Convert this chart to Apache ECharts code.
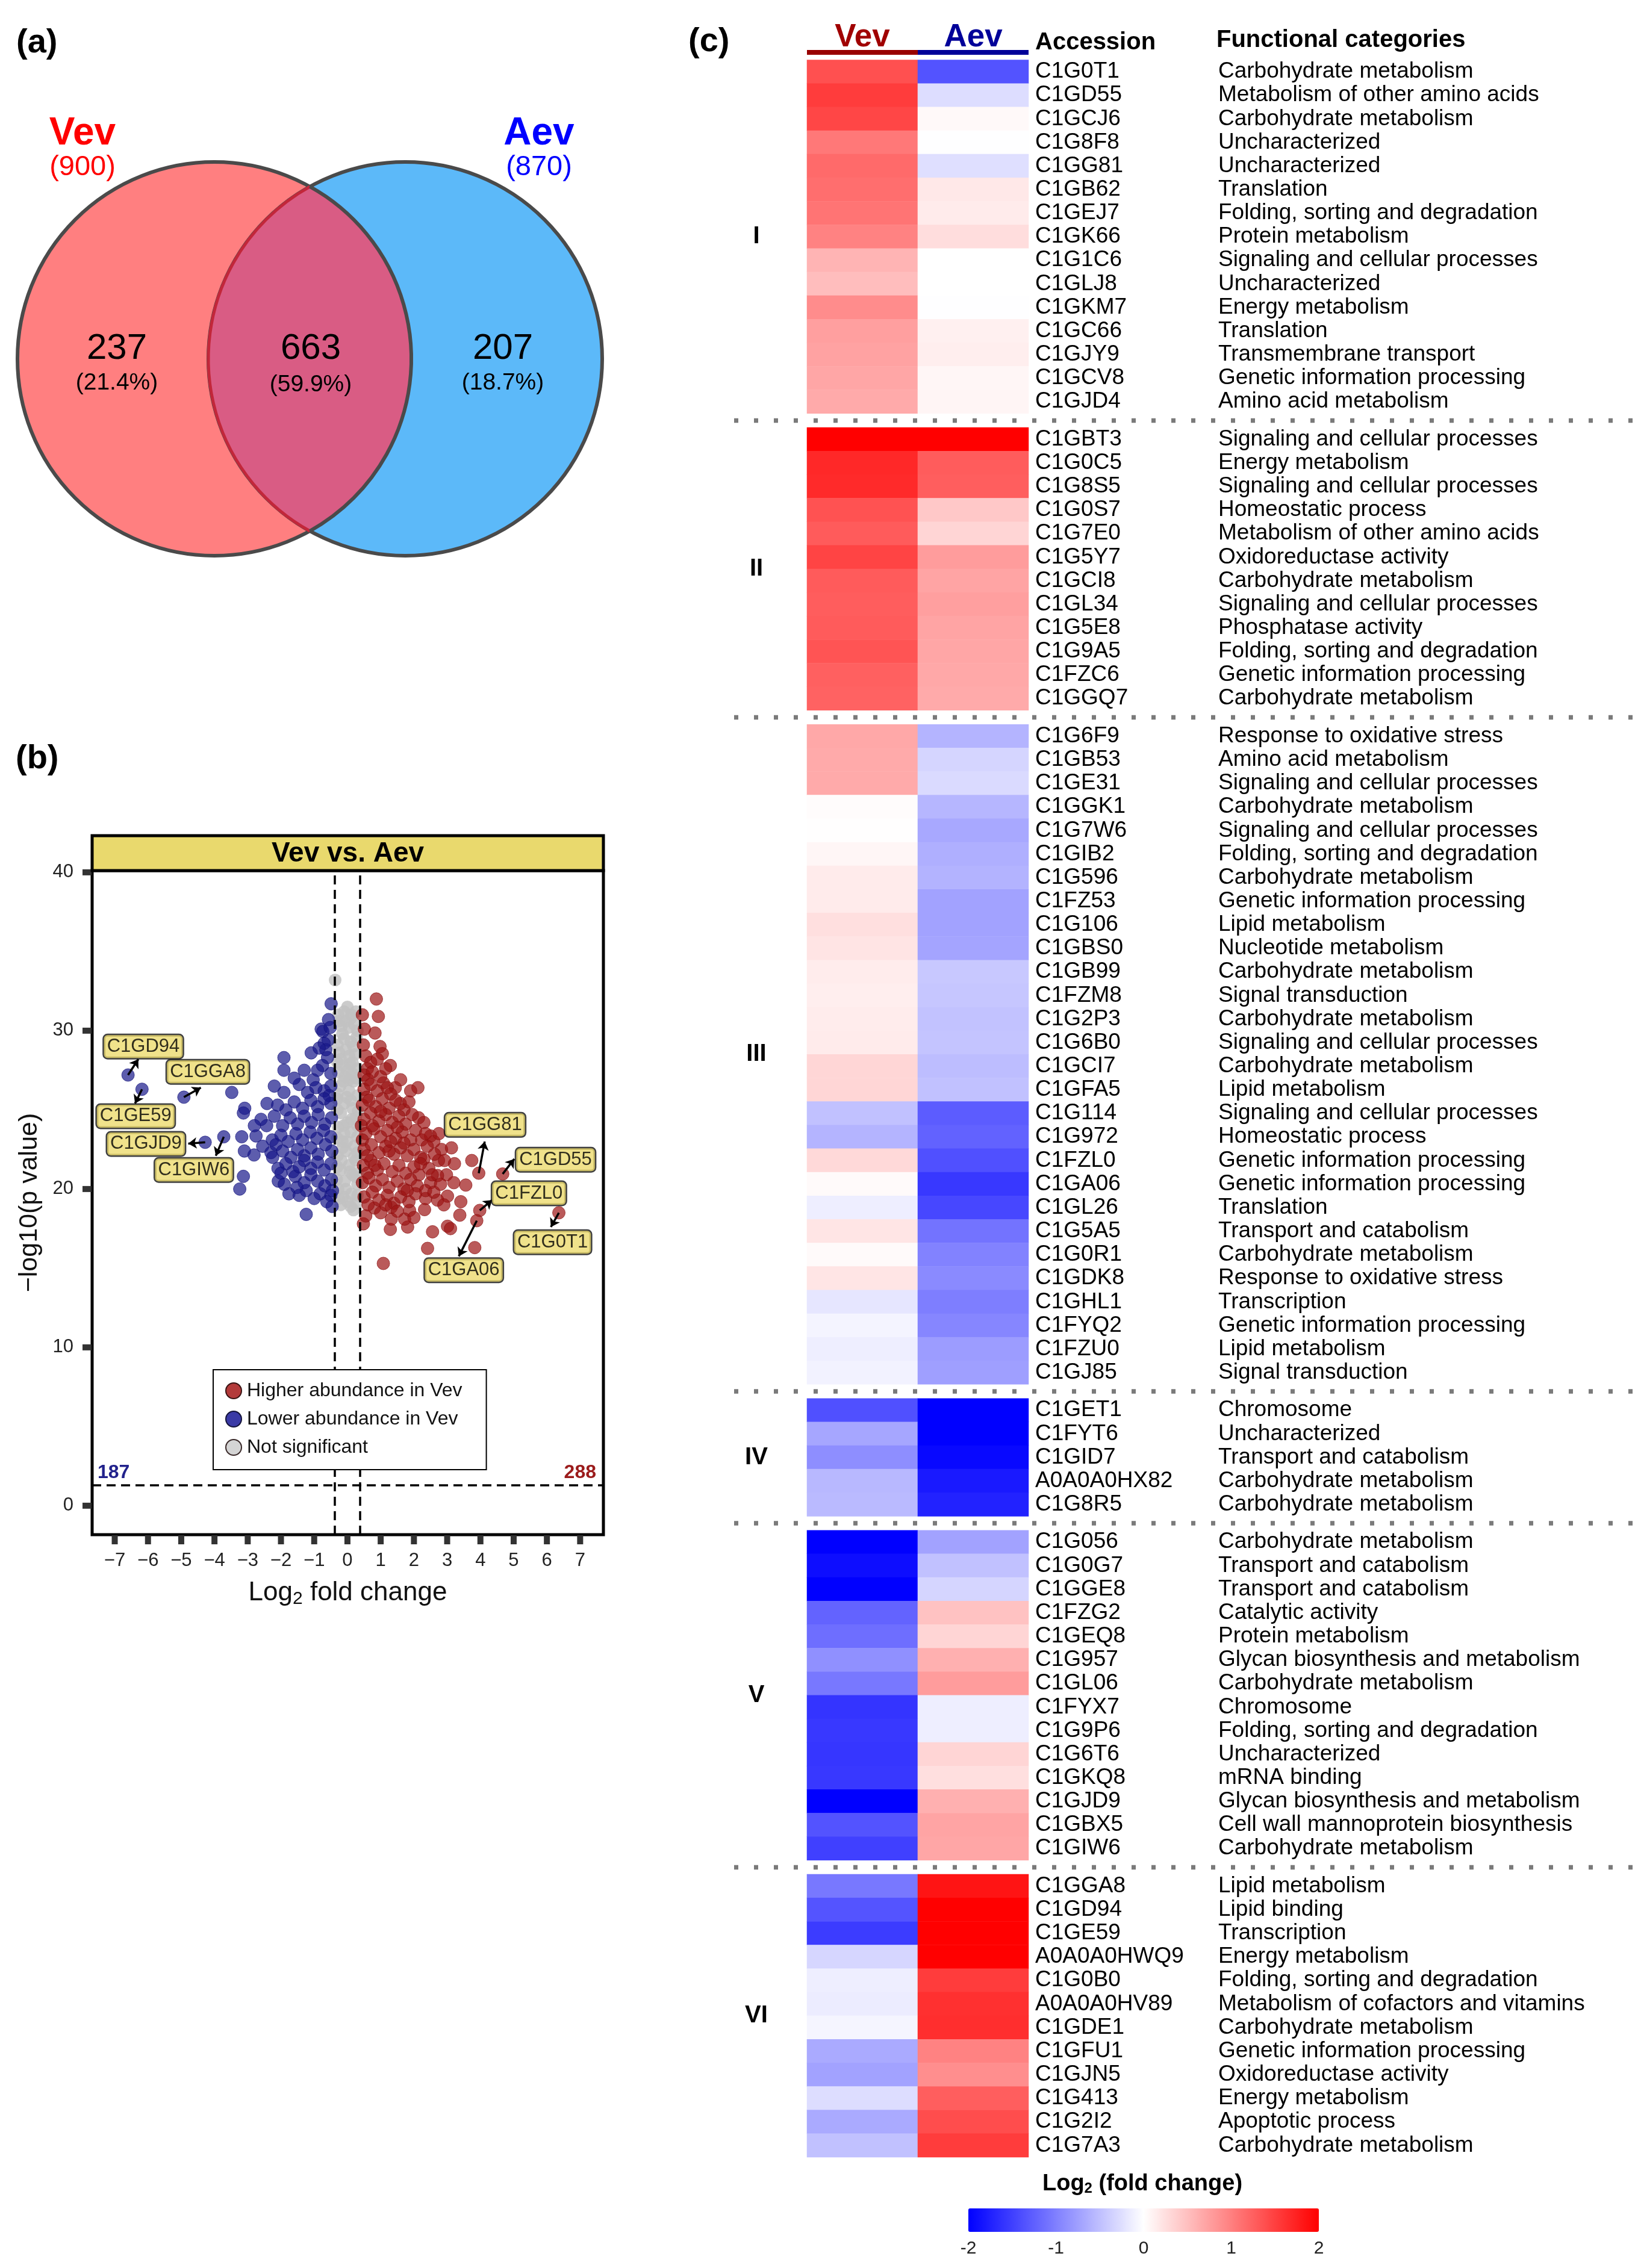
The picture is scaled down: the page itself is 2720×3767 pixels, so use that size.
<!DOCTYPE html>
<html><head><meta charset="utf-8">
<script src="https://cdn.jsdelivr.net/npm/echarts@6/dist/echarts.min.js"></script>
<style>html,body{margin:0;padding:0;background:#fff}#c{width:2720px;height:3767px}</style>
</head><body><div id="c"></div>
<script>
const FONT = 'Liberation Sans, Arial, Helvetica, sans-serif';

// ---------------- (a) Venn data ----------------
const vennSets = ['Vev', 'Aev'];
const vennTotals = [900, 870];
const vennRegionCounts = [237, 663, 207];
const vennRegionPct = ['21.4%', '59.9%', '18.7%'];

// ---------------- (b) Volcano data ----------------
const volcanoTitle = 'Vev vs. Aev';
const lowerCount = 187, higherCount = 288;
const fcThreshold = 0.38, pThreshold = 1.3;
const xTickValues = [-7,-6,-5,-4,-3,-2,-1,0,1,2,3,4,5,6,7];
const yTickValues = [0,10,20,30,40];

const higherPts = [
 [0.87,32.0],[0.93,30.9],[0.83,29.85],[0.51,30.1],[0.48,29.1],[1.05,28.55],[1.29,27.8],[1.44,26.4],[2.12,26.4],[2.14,24.5],
 [1.59,25.4],[1.08,26.7],[2.50,23.35],[2.83,22.5],[3.13,22.6],[3.22,21.6],[3.74,21.8],[3.95,21.0],[4.67,20.95],[3.56,20.25],
 [2.98,20.9],[2.71,20.85],[3.01,19.55],[3.41,19.2],[3.38,18.35],[3.98,18.65],[3.89,18.0],[6.36,18.5],[3.01,17.65],[3.10,17.5],
 [2.56,17.3],[2.41,16.25],[3.83,16.3],[1.08,15.3],[0.48,17.8],[1.29,17.45],[1.81,17.6],[1.72,18.1],[1.32,18.1],[2.32,18.7],
 [1.87,18.65],[0.81,18.8],[1.32,18.85],[2.71,19.3],[2.35,19.4],[2.74,21.8],[2.62,22.2],[2.92,21.8],[2.23,23.1],
 [0.55,28.4],[0.7,28.0],[0.9,28.2],[0.6,27.6],[0.5,27.2],[0.75,27.4],[1.0,27.1],[1.15,27.6],[0.62,26.9],
 [0.5,26.3],[0.7,26.6],[0.9,26.2],[1.2,26.4],[1.3,26.0],[0.58,25.8],
 [0.45,25.3],[0.65,25.6],[0.85,25.2],[1.05,25.7],[1.25,25.1],[1.45,25.6],[1.7,25.0],[1.85,25.5],
 [0.5,24.4],[0.7,24.8],[0.95,24.3],[1.15,24.7],[1.35,24.2],[1.55,24.6],[1.75,24.1],[1.95,24.7],[2.3,24.2],[0.42,24.0],
 [0.55,23.5],[0.8,23.8],[1.0,23.3],[1.2,23.7],[1.45,23.2],[1.65,23.6],[1.9,23.1],[2.05,23.7],[2.35,23.5],[2.6,23.0],[0.45,23.1],
 [0.5,22.5],[0.72,22.8],[0.95,22.3],[1.15,22.7],[1.4,22.2],[1.6,22.6],[1.8,22.1],[2.0,22.5],[2.2,22.0],[2.4,22.7],[2.3,21.9],
 [0.48,21.5],[0.7,21.8],[0.9,21.2],[1.1,21.6],[1.35,21.1],[1.55,21.5],[1.75,21.0],[2.0,21.4],[2.15,20.9],[2.45,21.3],[0.6,21.0],
 [0.45,20.4],[0.65,20.7],[0.85,20.2],[1.05,20.6],[1.25,20.1],[1.5,20.5],[1.7,20.0],[1.9,20.6],[2.1,20.2],[2.5,20.4],[2.35,19.9],
 [0.5,19.5],[0.75,19.8],[0.95,19.3],[1.2,19.6],[1.4,19.1],[1.6,19.5],[1.85,19.2],[2.05,19.7],[2.6,19.8],[0.62,19.0],
 [1.0,18.5],[1.5,18.6],[0.55,18.3],[2.0,18.2],[2.8,20.3],[2.9,19.0],[3.2,20.4],[2.75,23.5],[1.9,26.2],[1.6,26.9],[0.98,29.0],[0.45,31.0],
 [0.6,22.1],[0.82,21.5],[1.25,22.4],[1.7,22.9],[1.3,23.0],[0.75,24.0],[1.0,24.9],[1.5,23.9],[2.2,21.6],[2.55,20.9],[1.8,19.9],[1.15,19.0]
];
const lowerPts = [
 [-6.60,27.2],[-6.18,26.3],[-4.92,25.8],[-3.48,26.1],[-4.28,22.95],[-3.72,23.3],[-3.09,25.1],[-3.13,24.8],[-3.18,23.3],[-3.10,22.4],
 [-2.81,22.15],[-2.75,23.35],[-2.55,22.7],[-3.13,20.8],[-3.24,20.0],[-1.91,28.3],[-1.91,27.5],[-1.09,28.6],[-0.79,30.1],[-0.74,29.95],
 [-0.49,31.7],[-0.58,29.4],[-0.57,30.7],[-2.42,25.4],[-2.43,24.0],[-1.91,26.1],[-1.45,26.6],[-1.03,26.9],[-2.09,21.3],[-2.08,20.5],
 [-1.76,19.7],[-1.24,19.9],[-1.24,18.4],[-0.82,19.7],[-1.64,21.1],[-1.57,20.8],[-2.30,22.3],[-2.26,23.1],
 [-0.6,28.3],[-0.75,27.8],[-0.5,27.3],[-0.9,27.5],[-0.65,28.8],
 [-0.5,26.5],[-0.7,26.2],[-0.95,26.4],[-1.2,26.1],[-0.55,25.9],
 [-0.5,25.4],[-0.7,25.7],[-0.9,25.2],[-1.1,25.6],[-1.35,25.1],[-1.6,25.5],[-1.85,25.0],[-2.1,25.3],
 [-0.48,24.5],[-0.68,24.1],[-0.88,24.7],[-1.08,24.2],[-1.3,24.6],[-1.5,24.1],[-1.72,24.5],[-1.95,24.0],[-2.2,24.6],
 [-0.5,23.3],[-0.72,23.7],[-0.92,23.2],[-1.12,23.6],[-1.35,23.1],[-1.55,23.5],[-1.78,23.0],[-2.0,23.4],[-2.15,22.8],
 [-0.47,22.4],[-0.66,22.8],[-0.88,22.2],[-1.1,22.6],[-1.3,22.1],[-1.5,22.5],[-1.7,22.0],[-1.95,22.4],[-2.25,22.0],
 [-0.5,21.6],[-0.7,21.2],[-0.9,21.7],[-1.1,21.3],[-1.3,21.8],[-1.45,21.4],[-1.85,21.6],[-2.0,21.0],
 [-0.48,20.6],[-0.68,20.2],[-0.9,20.5],[-1.1,20.9],[-1.3,20.4],[-1.52,20.1],[-1.9,20.3],
 [-0.5,19.6],[-0.62,19.2],[-1.0,19.4],[-1.45,19.6],[-0.45,19.9],
 [-0.52,30.2],[-0.7,29.2],[-0.85,28.9],[-1.3,27.5],[-1.6,27.0],[-2.2,26.5],[-2.6,24.4],[-2.8,24.0],[-0.46,18.9]
];
const nsPts = [
 [-0.37,33.2],[0.0,31.5],[-0.1,31.2],[0.12,31.0],[-0.25,30.6],[0.2,30.4],[0.05,30.2],[-0.15,29.8],[0.28,29.6],[0.1,29.3],
 [-0.3,29.1],[-0.05,28.8],[0.22,28.5],[-0.2,28.2],[0.08,27.9],[0.3,27.6],[-0.28,27.4],[-0.08,27.1],[0.18,26.8],[-0.22,26.5],
 [0.05,26.2],[0.3,25.9],[-0.3,25.7],[-0.1,25.4],[0.15,25.1],[-0.2,24.8],[0.25,24.5],[0.0,24.2],[-0.28,23.9],[0.1,23.6],
 [0.3,23.3],[-0.15,23.0],[0.2,22.7],[-0.05,22.4],[-0.3,22.1],[0.25,21.8],[0.05,21.5],[-0.2,21.2],[0.15,20.9],[-0.32,20.6],
 [0.3,20.3],[-0.05,20.0],[0.12,19.7],[-0.25,19.4],[0.28,19.1],[-0.13,19.5],[0.18,18.67],[0.05,26.9],[-0.12,24.0],[0.2,22.0],
 [-0.25,28.6],[0.1,30.8],[-0.3,26.0],[0.32,24.9],[-0.02,23.0],[0.22,20.8],[-0.18,21.8],[0.0,27.5],[-0.1,29.5],[0.15,28.0],
 [-0.28,31.0],[0.25,31.2],[-0.18,30.3],[0.3,30.0],[-0.3,28.0],[0.28,27.0],[-0.3,25.0],[0.3,24.0],[-0.3,23.2],[0.3,22.3],
 [-0.3,21.4],[0.3,21.0],[-0.28,20.0],[0.3,19.6],[-0.2,19.0],[0.0,19.2],[0.1,18.9],[-0.08,20.5],[0.1,25.6],[-0.12,26.8],
 [0.15,27.3],[-0.15,27.8],[0.18,29.0],[-0.05,30.6],[0.05,28.4],[-0.02,25.8],[0.12,24.4],[-0.15,22.6],[0.08,21.1],[-0.1,23.5]
];
// labelled proteins: point position, arrow tip, label box centre (data units)
const labeledNames = ['C1GD94','C1GE59','C1GGA8','C1GJD9','C1GIW6','C1GG81','C1GD55','C1FZL0','C1GA06','C1G0T1'];
const labeledX = [-6.60,-6.18,-4.92,-4.28,-3.72,3.95,4.67,3.98,3.89,6.36];
const labeledY = [27.2,26.3,25.8,22.95,23.3,21.0,20.95,18.65,18.0,18.5];
const arrowTipX = [-6.29,-6.39,-4.41,-4.79,-3.96,4.13,5.02,4.35,3.35,6.12];
const arrowTipY = [28.2,25.4,26.4,22.87,22.1,23.0,21.9,19.3,15.75,17.6];
const labelBoxX = [-6.14,-6.37,-4.20,-6.06,-4.62,4.14,6.26,5.46,3.50,6.17];
const labelBoxY = [29.0,24.6,27.4,22.85,21.2,24.05,21.85,19.73,14.87,16.64];

// ---------------- (c) Heatmap data ----------------
const heatColumns = ['Vev', 'Aev'];
const sectionNames = ['I','II','III','IV','V','VI'];

const accI = ['C1G0T1','C1GD55','C1GCJ6','C1G8F8','C1GG81','C1GB62','C1GEJ7','C1GK66','C1G1C6','C1GLJ8','C1GKM7','C1GC66','C1GJY9','C1GCV8','C1GJD4'];
const funcI = ['Carbohydrate metabolism','Metabolism of other amino acids','Carbohydrate metabolism','Uncharacterized','Uncharacterized','Translation','Folding, sorting and degradation','Protein metabolism','Signaling and cellular processes','Uncharacterized','Energy metabolism','Translation','Transmembrane transport','Genetic information processing','Amino acid metabolism'];
const vevI = [1.37,1.53,1.45,1.06,1.17,1.14,1.09,0.98,0.59,0.52,0.90,0.75,0.73,0.70,0.67];
const aevI = [-1.35,-0.27,0.05,-0.01,-0.25,0.18,0.16,0.27,0.0,0.0,-0.01,0.12,0.13,0.07,0.08];

const accII = ['C1GBT3','C1G0C5','C1G8S5','C1G0S7','C1G7E0','C1G5Y7','C1GCI8','C1GL34','C1G5E8','C1G9A5','C1FZC6','C1GGQ7'];
const funcII = ['Signaling and cellular processes','Energy metabolism','Signaling and cellular processes','Homeostatic process','Metabolism of other amino acids','Oxidoreductase activity','Carbohydrate metabolism','Signaling and cellular processes','Phosphatase activity','Folding, sorting and degradation','Genetic information processing','Carbohydrate metabolism'];
const vevII = [2.0,1.69,1.67,1.36,1.29,1.47,1.29,1.27,1.29,1.34,1.25,1.23];
const aevII = [2.0,1.28,1.26,0.43,0.33,0.78,0.71,0.75,0.71,0.70,0.68,0.67];

const accIII = ['C1G6F9','C1GB53','C1GE31','C1GGK1','C1G7W6','C1GIB2','C1G596','C1FZ53','C1G106','C1GBS0','C1GB99','C1FZM8','C1G2P3','C1G6B0','C1GCI7','C1GFA5','C1G114','C1G972','C1FZL0','C1GA06','C1GL26','C1G5A5','C1G0R1','C1GDK8','C1GHL1','C1FYQ2','C1FZU0','C1GJ85'];
const funcIII = ['Response to oxidative stress','Amino acid metabolism','Signaling and cellular processes','Carbohydrate metabolism','Signaling and cellular processes','Folding, sorting and degradation','Carbohydrate metabolism','Genetic information processing','Lipid metabolism','Nucleotide metabolism','Carbohydrate metabolism','Signal transduction','Carbohydrate metabolism','Signaling and cellular processes','Carbohydrate metabolism','Lipid metabolism','Signaling and cellular processes','Homeostatic process','Genetic information processing','Genetic information processing','Translation','Transport and catabolism','Carbohydrate metabolism','Response to oxidative stress','Transcription','Genetic information processing','Lipid metabolism','Signal transduction'];
const vevIII = [0.68,0.67,0.67,0.02,0.01,0.07,0.16,0.16,0.25,0.21,0.15,0.13,0.15,0.16,0.32,0.32,-0.49,-0.59,0.30,0.04,-0.13,0.20,0.04,0.20,-0.20,-0.09,-0.13,-0.10];
const aevIII = [-0.59,-0.33,-0.29,-0.57,-0.68,-0.63,-0.60,-0.73,-0.73,-0.71,-0.43,-0.45,-0.48,-0.46,-0.52,-0.49,-1.28,-1.23,-1.37,-1.56,-1.44,-1.10,-0.98,-0.92,-1.01,-0.95,-0.78,-0.75];

const accIV = ['C1GET1','C1FYT6','C1GID7','A0A0A0HX82','C1G8R5'];
const funcIV = ['Chromosome','Uncharacterized','Transport and catabolism','Carbohydrate metabolism','Carbohydrate metabolism'];
const vevIV = [-1.37,-0.70,-0.89,-0.56,-0.54];
const aevIV = [-2.0,-2.0,-1.94,-1.80,-1.73];

const accV = ['C1G056','C1G0G7','C1GGE8','C1FZG2','C1GEQ8','C1G957','C1GL06','C1FYX7','C1G9P6','C1G6T6','C1GKQ8','C1GJD9','C1GBX5','C1GIW6'];
const funcV = ['Carbohydrate metabolism','Transport and catabolism','Transport and catabolism','Catalytic activity','Protein metabolism','Glycan biosynthesis and metabolism','Carbohydrate metabolism','Chromosome','Folding, sorting and degradation','Uncharacterized','mRNA binding','Glycan biosynthesis and metabolism','Cell wall mannoprotein biosynthesis','Carbohydrate metabolism'];
const vevV = [-2.0,-1.90,-2.0,-1.22,-1.14,-0.87,-1.06,-1.59,-1.56,-1.58,-1.56,-2.0,-1.35,-1.50];
const aevV = [-0.73,-0.49,-0.33,0.48,0.33,0.62,0.78,-0.13,-0.13,0.33,0.25,0.62,0.71,0.70];

const accVI = ['C1GGA8','C1GD94','C1GE59','A0A0A0HWQ9','C1G0B0','A0A0A0HV89','C1GDE1','C1GFU1','C1GJN5','C1G413','C1G2I2','C1G7A3'];
const funcVI = ['Lipid metabolism','Lipid binding','Transcription','Energy metabolism','Folding, sorting and degradation','Metabolism of cofactors and vitamins','Carbohydrate metabolism','Genetic information processing','Oxidoreductase activity','Energy metabolism','Apoptotic process','Carbohydrate metabolism'];
const vevVI = [-1.06,-1.34,-1.53,-0.32,-0.13,-0.15,-0.08,-0.67,-0.73,-0.27,-0.67,-0.49];
const aevVI = [1.84,2.0,2.0,2.0,1.53,1.62,1.64,0.98,0.89,1.26,1.40,1.53];

const colorbarTicks = [-2, 2, 1]; // min, max, step

// ---------------- layout ----------------
const vennLayout = { cx: [356, 673], cy: 596, r: 327,
  setLabelPos: [[137, 222], [895, 222]], totalPos: [[137, 278], [895, 278]],
  countPos: [[194, 579], [516, 579], [835, 579]], pctPos: [[194, 636], [516, 639], [835, 636]] };
const volc = { left: 153, top: 1446, width: 849, height: 1103, xMin: -7.68, xMax: 7.70, yMin: -1.83, yMax: 40.11,
  tickLen: 15, tickW: 10 };
const hm = { left: 1340, width: 368, top0: 99.5, rowH: 39.15, gap: 23.3 };

const sections = [
  {acc: accI, func: funcI, vev: vevI, aev: aevI},
  {acc: accII, func: funcII, vev: vevII, aev: aevII},
  {acc: accIII, func: funcIII, vev: vevIII, aev: aevIII},
  {acc: accIV, func: funcIV, vev: vevIV, aev: aevIV},
  {acc: accV, func: funcV, vev: vevV, aev: aevV},
  {acc: accVI, func: funcVI, vev: vevVI, aev: aevVI}
];

const grids = [], xAxes = [], yAxes = [], series = [], graphics = [];

// ---- grid 0 : Venn ----
grids.push({left: 0, top: 0, width: 1020, height: 950});
xAxes.push({gridIndex: 0, type: 'value', min: 0, max: 1020, show: false});
yAxes.push({gridIndex: 0, type: 'value', min: 0, max: 950, inverse: true, show: false});

function renderVenn(params, api) {
  const L = api.coord([vennLayout.cx[0], vennLayout.cy]);
  const R = api.coord([vennLayout.cx[1], vennLayout.cy]);
  const r = api.size([vennLayout.r, 0])[0];
  const d = R[0] - L[0];
  const mx = L[0] + d / 2;
  const h = Math.sqrt(r * r - d * d / 4);
  const P1 = [mx, L[1] - h], P2 = [mx, L[1] + h];
  const lens = `M${P1[0]} ${P1[1]} A${r} ${r} 0 0 1 ${P2[0]} ${P2[1]} A${r} ${r} 0 0 1 ${P1[0]} ${P1[1]} Z`;
  const arcRight = `M${P2[0]} ${P2[1]} A${r} ${r} 0 0 1 ${P1[0]} ${P1[1]}`;
  const arcLeft = `M${P1[0]} ${P1[1]} A${r} ${r} 0 0 1 ${P2[0]} ${P2[1]}`;
  const children = [
    {type: 'circle', shape: {cx: L[0], cy: L[1], r: r}, style: {fill: '#ff7f80', stroke: '#4a4a4a', lineWidth: 6}},
    {type: 'circle', shape: {cx: R[0], cy: R[1], r: r}, style: {fill: '#5cb9f9', stroke: '#4a4a4a', lineWidth: 6}},
    {type: 'path', shape: {pathData: lens}, style: {fill: '#d95c84', stroke: null}},
    {type: 'path', shape: {pathData: arcRight}, style: {fill: null, stroke: '#c2273a', lineWidth: 5}},
    {type: 'path', shape: {pathData: arcLeft}, style: {fill: null, stroke: '#4a4a4a', lineWidth: 6}}
  ];
  const setColors = ['#ff0000', '#0000ff'];
  for (let i = 0; i < 2; i++) {
    const p = api.coord(vennLayout.setLabelPos[i]);
    children.push({type: 'text', style: {text: vennSets[i], x: p[0], y: p[1], fill: setColors[i], fontSize: 64, fontWeight: 'bold', fontFamily: FONT, align: 'center', verticalAlign: 'middle'}});
    const q = api.coord(vennLayout.totalPos[i]);
    children.push({type: 'text', style: {text: '(' + vennTotals[i] + ')', x: q[0], y: q[1], fill: setColors[i], fontSize: 47, fontFamily: FONT, align: 'center', verticalAlign: 'middle'}});
  }
  for (let i = 0; i < 3; i++) {
    const p = api.coord(vennLayout.countPos[i]);
    children.push({type: 'text', style: {text: String(vennRegionCounts[i]), x: p[0], y: p[1], fill: '#000', fontSize: 60, fontFamily: FONT, align: 'center', verticalAlign: 'middle'}});
    const q = api.coord(vennLayout.pctPos[i]);
    children.push({type: 'text', style: {text: '(' + vennRegionPct[i] + ')', x: q[0], y: q[1], fill: '#000', fontSize: 39, fontFamily: FONT, align: 'center', verticalAlign: 'middle'}});
  }
  return {type: 'group', children: children};
}
series.push({type: 'custom', xAxisIndex: 0, yAxisIndex: 0, data: [[0, 0]], renderItem: renderVenn, silent: true});

// ---- grid 1 : Volcano ----
grids.push({left: volc.left, top: volc.top, width: volc.width, height: volc.height, show: true,
  borderColor: '#000', borderWidth: 5, backgroundColor: '#fff'});
xAxes.push({gridIndex: 1, type: 'value', min: volc.xMin, max: volc.xMax,
  axisLine: {show: false, onZero: false}, splitLine: {show: false},
  axisTick: {show: false},
  axisLabel: {customValues: xTickValues, fontSize: 31, color: '#222', margin: 28,
    formatter: v => (v < 0 ? '\u2212' + Math.abs(v) : String(v))},
  name: '{a|Log}{s|2}{a| fold change}', nameLocation: 'middle', nameGap: 72,
  nameTextStyle: {rich: {a: {fontSize: 44, color: '#111', fontFamily: FONT}, s: {fontSize: 30, color: '#111', fontFamily: FONT, padding: [20, 0, 0, 0]}}}
});
yAxes.push({gridIndex: 1, type: 'value', min: volc.yMin, max: volc.yMax,
  axisLine: {show: false, onZero: false}, splitLine: {show: false},
  axisTick: {show: false},
  axisLabel: {customValues: yTickValues, fontSize: 31, color: '#222', margin: 31},
  name: '\u2212log10(p value)', nameLocation: 'middle', nameRotate: 90, nameGap: 82,
  nameTextStyle: {fontSize: 43, color: '#111', fontFamily: FONT}
});
// axis tick marks (ggplot-style square ticks), positioned through the axes' own scales
series.push({type: 'custom', xAxisIndex: 1, yAxisIndex: 1, silent: true, z: 9, clip: false,
  data: xTickValues.map(v => [v, volc.yMin]),
  renderItem: (params, api) => {
    const p = api.coord([api.value(0), api.value(1)]);
    return {type: 'rect', shape: {x: p[0] - volc.tickW / 2, y: p[1] + 1, width: volc.tickW, height: volc.tickLen}, style: {fill: '#333'}};
  }});
series.push({type: 'custom', xAxisIndex: 1, yAxisIndex: 1, silent: true, z: 9, clip: false,
  data: yTickValues.map(v => [volc.xMin, v]),
  renderItem: (params, api) => {
    const p = api.coord([api.value(0), api.value(1)]);
    return {type: 'rect', shape: {x: p[0] - volc.tickLen - 1, y: p[1] - volc.tickW / 2, width: volc.tickLen, height: volc.tickW}, style: {fill: '#333'}};
  }});
const legendNames = ['Higher abundance in Vev', 'Lower abundance in Vev', 'Not significant'];
series.push({name: legendNames[2], type: 'scatter', xAxisIndex: 1, yAxisIndex: 1, data: nsPts, symbolSize: 21,
  itemStyle: {color: '#c2c2c2', opacity: 0.85}, z: 2, silent: true});
series.push({name: legendNames[0], type: 'scatter', xAxisIndex: 1, yAxisIndex: 1, data: higherPts, symbolSize: 21,
  itemStyle: {color: '#9c1414', opacity: 0.7, borderColor: '#8c1010', borderWidth: 1}, z: 3, silent: true});
series.push({name: legendNames[1], type: 'scatter', xAxisIndex: 1, yAxisIndex: 1, data: lowerPts, symbolSize: 21,
  itemStyle: {color: '#18188a', opacity: 0.7, borderColor: '#12127a', borderWidth: 1}, z: 3, silent: true,
  markLine: {silent: true, symbol: 'none', label: {show: false}, z: 6,
    lineStyle: {color: '#000', width: 3.5, type: [15, 9]},
    data: [{xAxis: -fcThreshold}, {xAxis: fcThreshold}, {yAxis: pThreshold}]}
});
series.push({type: 'scatter', xAxisIndex: 1, yAxisIndex: 1, z: 8, silent: true,
  data: labeledNames.map((n, i) => [labelBoxX[i], labelBoxY[i], n]),
  symbolSize: 1, itemStyle: {color: 'rgba(0,0,0,0)'},
  label: {show: true, position: 'inside', formatter: p => p.data[2], fontSize: 31, color: '#000', fontFamily: FONT,
    backgroundColor: '#ecdb6e', borderColor: '#111', borderWidth: 2.5, borderRadius: 6, padding: [4, 5, 3, 5]},
  markLine: {silent: true, symbol: ['none', 'arrow'], symbolSize: 14, label: {show: false}, z: 7,
    lineStyle: {color: '#000', width: 3.5, type: 'solid'},
    data: labeledNames.map((n, i) => [{coord: [labeledX[i], labeledY[i]]}, {coord: [arrowTipX[i], arrowTipY[i]]}])}
});

// ---- grids 2..7 : heatmap sections ----
const hmSeriesIdx = [];
let yCursor = hm.top0;
const sectionBounds = [];
sections.forEach((s, k) => {
  const gi = grids.length;
  const hgt = s.acc.length * hm.rowH;
  sectionBounds.push([yCursor, yCursor + hgt]);
  grids.push({left: hm.left, top: yCursor, width: hm.width, height: hgt, outerBoundsMode: 'none'});
  xAxes.push({gridIndex: gi, type: 'category', data: heatColumns, position: 'top',
    axisLine: {show: false}, axisTick: {show: false}, splitLine: {show: false},
    axisLabel: {show: k === 0, fontSize: 53, fontWeight: 'bold', margin: 11, fontFamily: FONT,
      color: (v) => (v === 'Vev' ? '#a00000' : '#000099')}});
  yAxes.push({gridIndex: gi, type: 'category', data: s.acc, inverse: true, position: 'right',
    axisLine: {show: false}, axisTick: {show: false}, splitLine: {show: false},
    axisLabel: {interval: 0, margin: 11, color: '#000',
      formatter: (v, i) => '{a|' + v + '}{b|' + s.func[i] + '}',
      rich: {a: {width: 304, fontSize: 37, fontFamily: FONT, color: '#000'}, b: {fontSize: 37, fontFamily: FONT, color: '#000'}}}});
  const data = [];
  s.acc.forEach((a, i) => { data.push([0, i, s.vev[i]]); data.push([1, i, s.aev[i]]); });
  hmSeriesIdx.push(series.length);
  series.push({type: 'heatmap', xAxisIndex: gi, yAxisIndex: gi, data: data, silent: true, emphasis: {disabled: true},
    itemStyle: {borderWidth: 0}});
  yCursor += hgt + hm.gap;
});

// ---- grid 8 : colour bar axis ----
const cb = {left: 1608, top: 3668, width: 582, height: 39};
grids.push({left: cb.left, top: cb.top, width: cb.width, height: cb.height, outerBoundsMode: 'none'});
xAxes.push({gridIndex: grids.length - 1, type: 'value', min: colorbarTicks[0], max: colorbarTicks[1], interval: colorbarTicks[2],
  axisLine: {show: false}, axisTick: {show: false}, splitLine: {show: false},
  axisLabel: {fontSize: 30, color: '#222', margin: 13}});
yAxes.push({gridIndex: grids.length - 1, type: 'value', show: false, min: 0, max: 1});

// ---- graphics ----
const T = (text, x, y, o) => Object.assign({type: 'text', x: x, y: y, silent: true,
  style: Object.assign({text: text, fontFamily: FONT, fill: '#000', align: 'left', verticalAlign: 'middle'}, o || {})});
graphics.push(T('(a)', 27, 72, {fontSize: 56, fontWeight: 'bold'}));
graphics.push(T('(b)', 26, 1261, {fontSize: 56, fontWeight: 'bold'}));
graphics.push(T('(c)', 1143, 70, {fontSize: 56, fontWeight: 'bold'}));
// facet strip
graphics.push({type: 'rect', silent: true, shape: {x: volc.left, y: 1388, width: volc.width, height: 58},
  style: {fill: '#e9d96d', stroke: '#000', lineWidth: 5}, z: 10});
graphics.push(Object.assign(T(volcanoTitle, volc.left + volc.width / 2, 1418, {fontSize: 46, fontWeight: 'bold', align: 'center'}), {z: 11}));
graphics.push(Object.assign(T(String(lowerCount), 162, 2446, {fontSize: 32, fontWeight: 'bold', fill: '#22228c'}), {z: 11}));
graphics.push(Object.assign(T(String(higherCount), 990, 2446, {fontSize: 32, fontWeight: 'bold', fill: '#9b1b1b', align: 'right'}), {z: 11}));
// heatmap header
graphics.push({type: 'rect', silent: true, shape: {x: hm.left, y: 83, width: hm.width / 2, height: 8}, style: {fill: '#990000'}});
graphics.push({type: 'rect', silent: true, shape: {x: hm.left + hm.width / 2, y: 83, width: hm.width / 2, height: 8}, style: {fill: '#000099'}});
graphics.push(T('Accession', 1719, 71, {fontSize: 40, fontWeight: 'bold'}));
graphics.push(T('Functional categories', 2020, 67, {fontSize: 40, fontWeight: 'bold'}));
// section labels & dotted separators
sectionBounds.forEach((b, k) => {
  graphics.push(T(sectionNames[k], 1256, (b[0] + b[1]) / 2, {fontSize: 40, fontWeight: 'bold', align: 'center'}));
  if (k > 0) {
    const yMid = (sectionBounds[k - 1][1] + b[0]) / 2;
    graphics.push({type: 'line', silent: true, shape: {x1: 1219, y1: yMid, x2: 2720, y2: yMid},
      style: {stroke: '#7a7a7a', lineWidth: 7.5, lineDash: [7, 26]}});
  }
});
// colour bar title
graphics.push({type: 'text', x: 1897, y: 3628, silent: true,
  style: {text: '{a|Log}{s|2}{a| (fold change)}', align: 'center', verticalAlign: 'middle',
    rich: {a: {fontSize: 38, fontWeight: 'bold', fontFamily: FONT, fill: '#000'}, s: {fontSize: 24, fontWeight: 'bold', fontFamily: FONT, fill: '#000', padding: [14, 0, 0, 0]}}}});

const option = {
  animation: false,
  backgroundColor: '#fff',
  textStyle: {fontFamily: FONT},
  grid: grids, xAxis: xAxes, yAxis: yAxes,
  visualMap: {type: 'continuous', min: -2, max: 2, seriesIndex: hmSeriesIdx, dimension: 2,
    inRange: {color: ['#0000ff', '#ffffff', '#ff0000']},
    orient: 'horizontal', left: cb.left, top: cb.top, itemWidth: cb.height, itemHeight: cb.width,
    calculable: false, hoverLink: false, padding: 0, text: null, showLabel: false},
  legend: {show: true, z: 30, orient: 'vertical', left: 354, top: 2275, selectedMode: false,
    itemWidth: 26, itemHeight: 26, itemGap: 15, icon: 'circle',
    padding: [19, 40, 21, 20], borderColor: '#000', borderWidth: 2, backgroundColor: '#fff',
    textStyle: {fontSize: 32, color: '#111', fontFamily: FONT, padding: [0, 0, 0, 4]},
    data: [
      {name: legendNames[0], itemStyle: {color: '#b33a3a', borderColor: '#3a1414', borderWidth: 2, opacity: 1}},
      {name: legendNames[1], itemStyle: {color: '#3a3aa6', borderColor: '#14143a', borderWidth: 2, opacity: 1}},
      {name: legendNames[2], itemStyle: {color: '#d4d4d4', borderColor: '#3a2a2a', borderWidth: 2, opacity: 1}}
    ]},
  graphic: {elements: graphics},
  series: series
};
const chart = echarts.init(document.getElementById('c'), null, {renderer: 'canvas'});
chart.setOption(option);
</script></body></html>
